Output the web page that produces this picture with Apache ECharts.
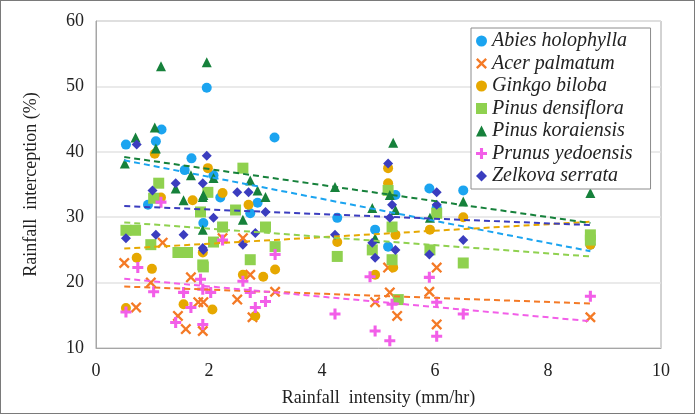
<!DOCTYPE html>
<html>
<head>
<meta charset="utf-8">
<script src="https://cdn.jsdelivr.net/npm/echarts@6/dist/echarts.min.js"></script>
<style>
  html, body { margin: 0; padding: 0; background: #fff; }
  #main { width: 695px; height: 414px; box-sizing: border-box; border: 1px solid #7a7a7a; }
</style>
</head>
<body>
<div id="main"></div>
<script type="text/javascript">
// species names
var names = ['Abies holophylla', 'Acer palmatum', 'Ginkgo biloba', 'Pinus densiflora',
             'Pinus koraiensis', 'Prunus yedoensis', 'Zelkova serrata'];

// measured points [intensity, interception]
var abies = [[0.53,41.1],[1.06,41.6],[1.16,43.4],[1.96,49.8],[3.16,42.2],[1.69,39.0],[1.57,37.2],
  [2.08,36.4],[2.2,33.0],[2.73,30.6],[2.86,32.2],[1.9,29.1],[0.92,31.9],[5.9,34.4],[6.5,34.1],
  [4.27,29.9],[4.94,28.1],[5.17,25.5],[5.3,33.4],[8.75,25.8],[6.03,31.5]];
var acer = [[0.5,23.0],[1.18,26.1],[0.71,16.2],[0.97,20.0],[1.45,14.9],[1.59,12.9],[1.68,20.8],
  [1.81,17.0],[2.24,26.8],[2.6,26.8],[2.73,21.2],[1.9,17.0],[2.5,17.4],[3.17,18.6],[1.89,12.6],
  [2.77,14.7],[5.17,22.3],[6.03,22.3],[5.2,18.5],[5.9,18.6],[4.94,17.0],[5.33,14.9],[6.03,13.6],
  [8.75,14.7]];
var ginkgo = [[0.72,23.8],[0.99,22.1],[0.53,16.1],[1.55,16.7],[1.04,39.7],[1.15,33.0],[1.71,32.6],
  [1.98,37.5],[2.24,33.7],[2.7,31.9],[1.89,24.6],[2.6,21.2],[2.96,20.9],[3.17,22.0],[2.06,15.9],
  [2.82,14.9],[5.17,37.5],[5.17,35.2],[5.3,27.3],[5.91,28.1],[6.5,30.0],[4.27,26.2],[4.94,21.2],
  [5.26,22.3],[8.75,25.8]];
var densiflora = [[0.53,28.0],[0.7,28.0],[1.11,35.2],[1.02,32.9],[0.97,25.8],[1.45,24.6],[1.62,24.6],
  [1.89,22.7],[1.85,30.8],[2.6,37.5],[1.98,33.8],[2.47,31.1],[2.24,28.5],[3.0,28.5],[2.08,26.2],
  [1.9,22.4],[2.73,23.5],[3.17,25.5],[4.27,24.0],[4.89,25.0],[5.24,23.5],[5.24,28.5],[5.17,34.1],
  [6.03,30.6],[5.91,25.0],[6.5,23.0],[5.35,17.4],[8.75,26.5],[8.75,27.3]];
var koraiensis = [[1.15,53.1],[1.96,53.7],[0.7,42.2],[1.04,43.7],[1.06,40.5],[0.51,38.2],[1.68,36.4],
  [1.41,34.4],[1.55,32.6],[1.89,33.1],[2.08,36.0],[2.73,35.6],[2.86,34.1],[3.0,33.1],[1.9,33.4],
  [2.6,29.6],[1.89,28.1],[4.23,34.6],[4.89,31.4],[5.2,33.4],[5.3,31.1],[5.91,29.9],[6.5,32.4],
  [4.94,26.8],[5.26,41.4],[8.75,33.7]];
var prunus = [[1.15,32.3],[0.74,22.3],[0.53,15.5],[1.02,18.6],[1.55,18.5],[1.41,13.9],[1.68,16.2],
  [1.89,19.0],[2.24,26.5],[3.17,24.3],[1.85,20.5],[2.6,20.2],[2.73,18.5],[3.0,17.1],[2.82,16.2],
  [1.89,13.6],[2.03,18.5],[4.23,15.2],[4.85,20.9],[5.9,20.8],[5.24,16.7],[6.03,17.0],[4.94,12.6],
  [5.2,11.1],[6.03,11.8],[6.5,15.2],[8.75,17.9]];
var zelkova = [[0.72,41.1],[1.96,39.4],[1.0,34.1],[1.41,35.2],[1.89,35.2],[0.53,26.8],[1.06,27.3],
  [1.55,27.3],[1.89,25.3],[2.5,33.8],[2.7,33.8],[2.08,29.9],[3.0,30.8],[2.82,27.6],[2.6,25.8],
  [1.9,25.0],[5.17,38.2],[6.03,33.8],[5.24,31.9],[5.2,29.9],[4.23,27.3],[5.9,24.3],[4.89,26.1],
  [4.94,23.8],[5.3,25.0],[6.03,31.9],[6.5,26.5]];

// linear trend lines, endpoints
var trendAbies = [[0.5,38.7],[8.75,24.8]];
var trendAcer = [[0.5,19.4],[8.75,16.8]];
var trendGinkgo = [[0.5,25.2],[8.75,29.3]];
var trendDensiflora = [[0.5,29.2],[8.75,24.0]];
var trendKoraiensis = [[0.5,39.2],[8.75,29.1]];
var trendPrunus = [[0.5,20.6],[8.75,14.1]];
var trendZelkova = [[0.5,31.7],[8.75,28.8]];

var xTicks = [0, 2, 4, 6, 8, 10];
var yTicks = [10, 20, 30, 40, 50, 60];

var colors = ['#1ba4f0', '#f47a26', '#e6a800', '#8fd14f', '#16813b', '#f25ee8', '#3b3dbf'];
var symbols = [
  'circle',
  'path://M0,1.5 L1.5,0 L5,3.5 L8.5,0 L10,1.5 L6.5,5 L10,8.5 L8.5,10 L5,6.5 L1.5,10 L0,8.5 L3.5,5 Z',
  'circle',
  'rect',
  'triangle',
  'path://M3.6,0 H6.4 V3.6 H10 V6.4 H6.4 V10 H3.6 V6.4 H0 V3.6 H3.6 Z',
  'diamond'
];
var sizes = [10, 11, 10, 11, 10, 11, 10];
var pointSets = [abies, acer, ginkgo, densiflora, koraiensis, prunus, zelkova];
var trendSets = [trendAbies, trendAcer, trendGinkgo, trendDensiflora, trendKoraiensis, trendPrunus, trendZelkova];

var myChart = echarts.init(document.getElementById('main'));

var series = [];
for (var i = 0; i < names.length; i++) {
    series.push({
        name: names[i],
        type: 'scatter',
        data: pointSets[i],
        symbol: symbols[i],
        symbolSize: sizes[i],
        itemStyle: { color: colors[i], opacity: 1 },
        z: 3
    });
}
for (var j = 0; j < names.length; j++) {
    series.push({
        name: names[j] + ' trend',
        type: 'line',
        data: trendSets[j],
        symbol: 'none',
        silent: true,
        lineStyle: { color: colors[j], width: 2, type: [6, 4] },
        z: 4
    });
}

var serif = 'Liberation Serif';

option = {
    backgroundColor: '#fff',
    animation: false,
    textStyle: { fontFamily: serif },
    grid: {
        left: 95, right: 33, top: 20, bottom: 65,
        show: true, borderColor: '#a6a6a6', borderWidth: 1
    },
    legend: {
        data: names,
        orient: 'vertical',
        left: 470, top: 27,
        backgroundColor: '#fff',
        borderColor: '#8c8c8c', borderWidth: 1,
        padding: [3, 18, 3, 5],
        itemGap: 2.5,
        itemWidth: 11, itemHeight: 11,
        textStyle: { fontFamily: serif, fontStyle: 'italic', fontSize: 20, color: '#222' }
    },
    xAxis: {
        type: 'value',
        min: xTicks[0], max: xTicks[xTicks.length - 1], interval: 2,
        name: 'Rainfall  intensity (mm/hr)',
        nameLocation: 'middle', nameGap: 41,
        nameTextStyle: { fontFamily: serif, fontSize: 18, color: '#222' },
        axisLine: { lineStyle: { color: '#a6a6a6' } },
        axisTick: { show: false },
        axisLabel: { fontFamily: serif, fontSize: 18, color: '#222', margin: 14 },
        splitLine: { show: false }
    },
    yAxis: {
        type: 'value',
        min: yTicks[0], max: yTicks[yTicks.length - 1], interval: 10,
        name: 'Rainfall  interception (%)',
        nameLocation: 'middle', nameGap: 56,
        nameTextStyle: { fontFamily: serif, fontSize: 18, color: '#222' },
        axisLine: { show: true, lineStyle: { color: '#a6a6a6' } },
        axisTick: { show: false },
        axisLabel: { fontFamily: serif, fontSize: 18, color: '#222', margin: 12 },
        splitLine: { lineStyle: { color: '#e3e3e3', width: 1.5 } }
    },
    series: series
};

myChart.setOption(option);
</script>
</body>
</html>
